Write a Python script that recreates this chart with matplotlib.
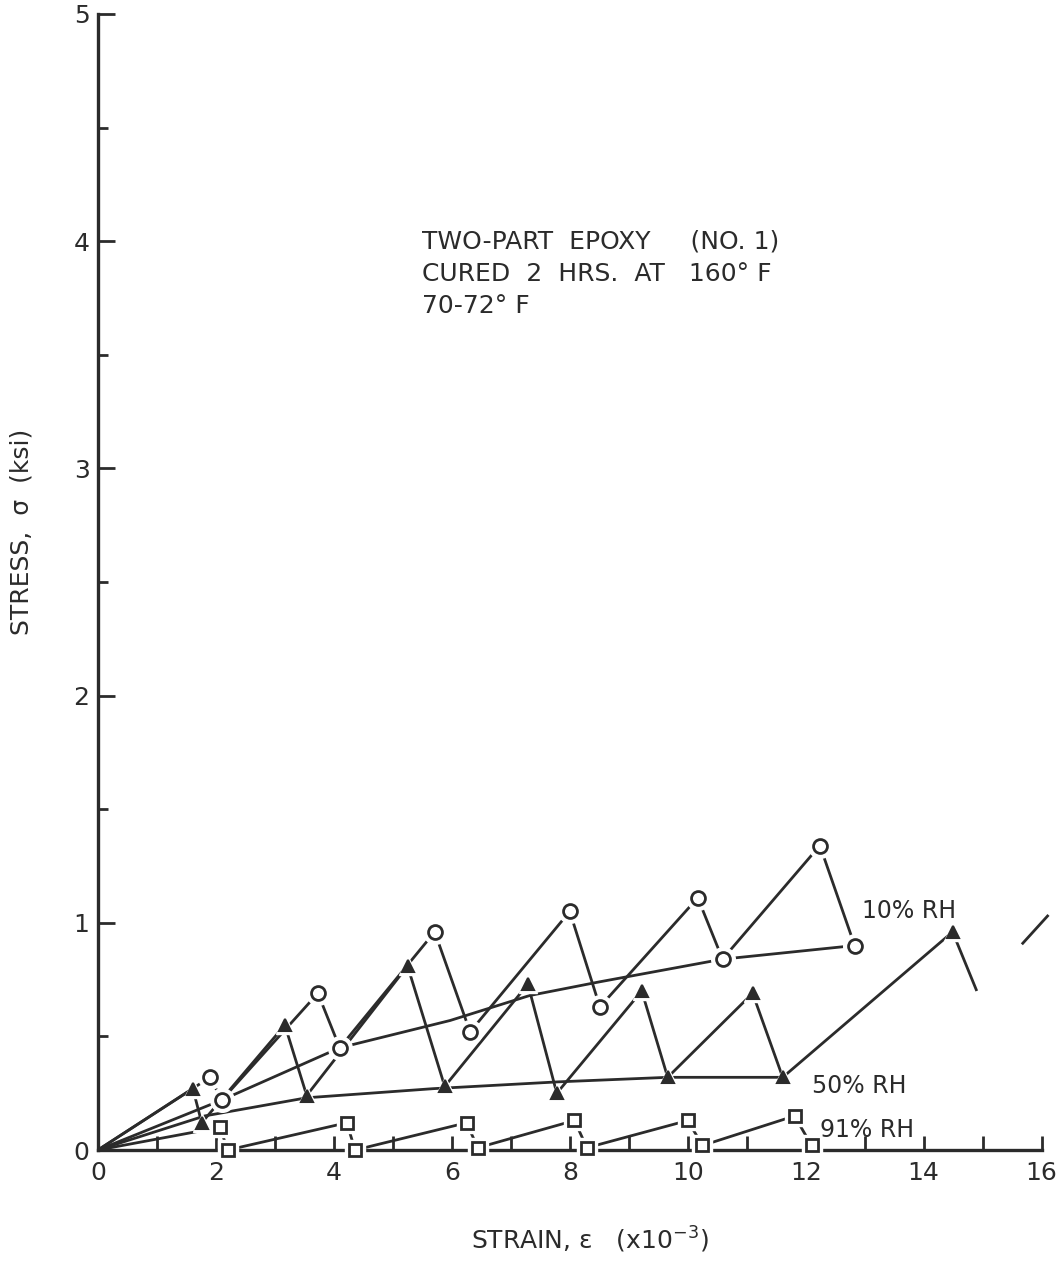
import matplotlib
matplotlib.use("Agg")
import matplotlib.pyplot as plt
from matplotlib.ticker import MultipleLocator

# Cyclic loading/unloading paths (strain x1e-3, stress ksi)
rh10_x = [0, 1.90, 2.10, 3.73, 4.10, 5.71, 6.31, 8.00, 8.51, 10.17, 10.59, 12.24, 12.83]
rh10_y = [0, 0.32, 0.22, 0.69, 0.45, 0.96, 0.52, 1.05, 0.63, 1.11, 0.84, 1.34, 0.90]
# Relaxed (envelope) curve through unloaded points, 10% RH
env10_x = [0, 2.10, 4.10, 5.97, 7.32, 8.50, 10.59, 12.83]
env10_y = [0, 0.22, 0.45, 0.57, 0.68, 0.74, 0.84, 0.90]

rh50_x = [0, 1.61, 1.76, 3.17, 3.54, 5.25, 5.88, 7.29, 7.78, 9.22, 9.66, 11.10, 11.61, 14.49]
rh50_y = [0, 0.27, 0.12, 0.55, 0.24, 0.81, 0.28, 0.73, 0.25, 0.70, 0.32, 0.69, 0.32, 0.96]
rh50_tail_x = [14.49, 14.90]
rh50_tail_y = [0.96, 0.70]
rh50_next_x = [15.68, 16.10]
rh50_next_y = [0.91, 1.03]
env50_x = [0, 1.81, 3.54, 5.68, 7.80, 9.66, 11.61]
env50_y = [0, 0.15, 0.23, 0.27, 0.30, 0.32, 0.32]

rh91_x = [0, 2.07, 2.20, 4.22, 4.36, 6.25, 6.44, 8.08, 8.29, 10.00, 10.25, 11.81, 12.10]
rh91_y = [0, 0.10, 0.00, 0.12, 0.00, 0.12, 0.01, 0.13, 0.01, 0.13, 0.02, 0.15, 0.02]

curve_labels = ["10% RH", "50% RH", "91% RH"]
label_x = [12.95, 12.10, 12.24]
label_y = [1.05, 0.28, 0.09]

note_lines = ["TWO-PART  EPOXY     (NO. 1)", "CURED  2  HRS.  AT   160° F", "70-72° F"]

x_ticks = [0, 2, 4, 6, 8, 10, 12, 14, 16]
y_ticks = [0, 1, 2, 3, 4, 5]

ink = "#2b2b2b"
lw = 2.0
plt.rcParams["font.family"] = ["DejaVu Sans"]

fig = plt.figure(figsize=(10.64, 12.66), dpi=100)
ax = fig.add_axes([0.092, 0.0916, 0.887, 0.8974])
ax.set_xlim(0, 16)
ax.set_ylim(0, 5)

# Lines first
for xs, ys in [(rh10_x, rh10_y), (env10_x, env10_y), (rh50_x, rh50_y),
               (rh50_tail_x, rh50_tail_y), (env50_x, env50_y), (rh91_x, rh91_y)]:
    ax.plot(xs, ys, color=ink, lw=lw, zorder=2, solid_capstyle="butt")
ax.plot(rh50_next_x, rh50_next_y, color=ink, lw=lw, zorder=2, clip_on=False)

# White halos around markers leave small gaps in the lines
halo = dict(ls="none", color="white", zorder=3, clip_on=False)
ax.plot(rh10_x[1:], rh10_y[1:], marker="o", ms=17, **halo)
ax.plot(rh50_x[1:], rh50_y[1:], marker="^", ms=13, **halo)
ax.plot(rh91_x[1:], rh91_y[1:], marker="s", ms=15, **halo)

ax.plot(rh10_x[1:], rh10_y[1:], ls="none", marker="o", ms=10, mfc="white",
        mec=ink, mew=2.0, zorder=4, clip_on=False)
ax.plot(rh50_x[1:], rh50_y[1:], ls="none", marker="^", ms=8, mfc=ink,
        mec=ink, mew=1.5, zorder=4, clip_on=False)
ax.plot(rh91_x[1:], rh91_y[1:], ls="none", marker="s", ms=9, mfc="white",
        mec=ink, mew=2.0, zorder=4, clip_on=False)

for t, lx, ly in zip(curve_labels, label_x, label_y):
    ax.text(lx, ly, t, fontsize=17, color=ink, va="center", ha="left", zorder=5)

for i, line in enumerate(note_lines):
    ax.text(0.343, 0.800 - i * 0.0287, line, transform=ax.transAxes,
            fontsize=18, color=ink, va="center", ha="left")

# Axes styling
for side in ["top", "right"]:
    ax.spines[side].set_visible(False)
for side in ["left", "bottom"]:
    ax.spines[side].set_linewidth(2.4)
    ax.spines[side].set_color(ink)

ax.set_xticks(x_ticks)
ax.set_yticks(y_ticks)
ax.xaxis.set_minor_locator(MultipleLocator(1))
ax.yaxis.set_minor_locator(MultipleLocator(0.5))
ax.tick_params(axis="both", which="both", direction="in", color=ink, width=2,
               labelcolor=ink, labelsize=18)
ax.tick_params(axis="x", which="major", length=10, pad=8)
ax.tick_params(axis="x", which="minor", length=10)
ax.tick_params(axis="y", which="major", length=12, pad=6)
ax.tick_params(axis="y", which="minor", length=7)

ax.set_xlabel("STRAIN, ε   (x10$^{-3}$)", fontsize=18, color=ink)
ax.set_ylabel("STRESS,  σ  (ksi)", fontsize=18, color=ink)
ax.xaxis.set_label_coords(0.521, -0.066)
ax.yaxis.set_label_coords(-0.068, 0.544)

fig.savefig("out.png", dpi=100, facecolor="white")
